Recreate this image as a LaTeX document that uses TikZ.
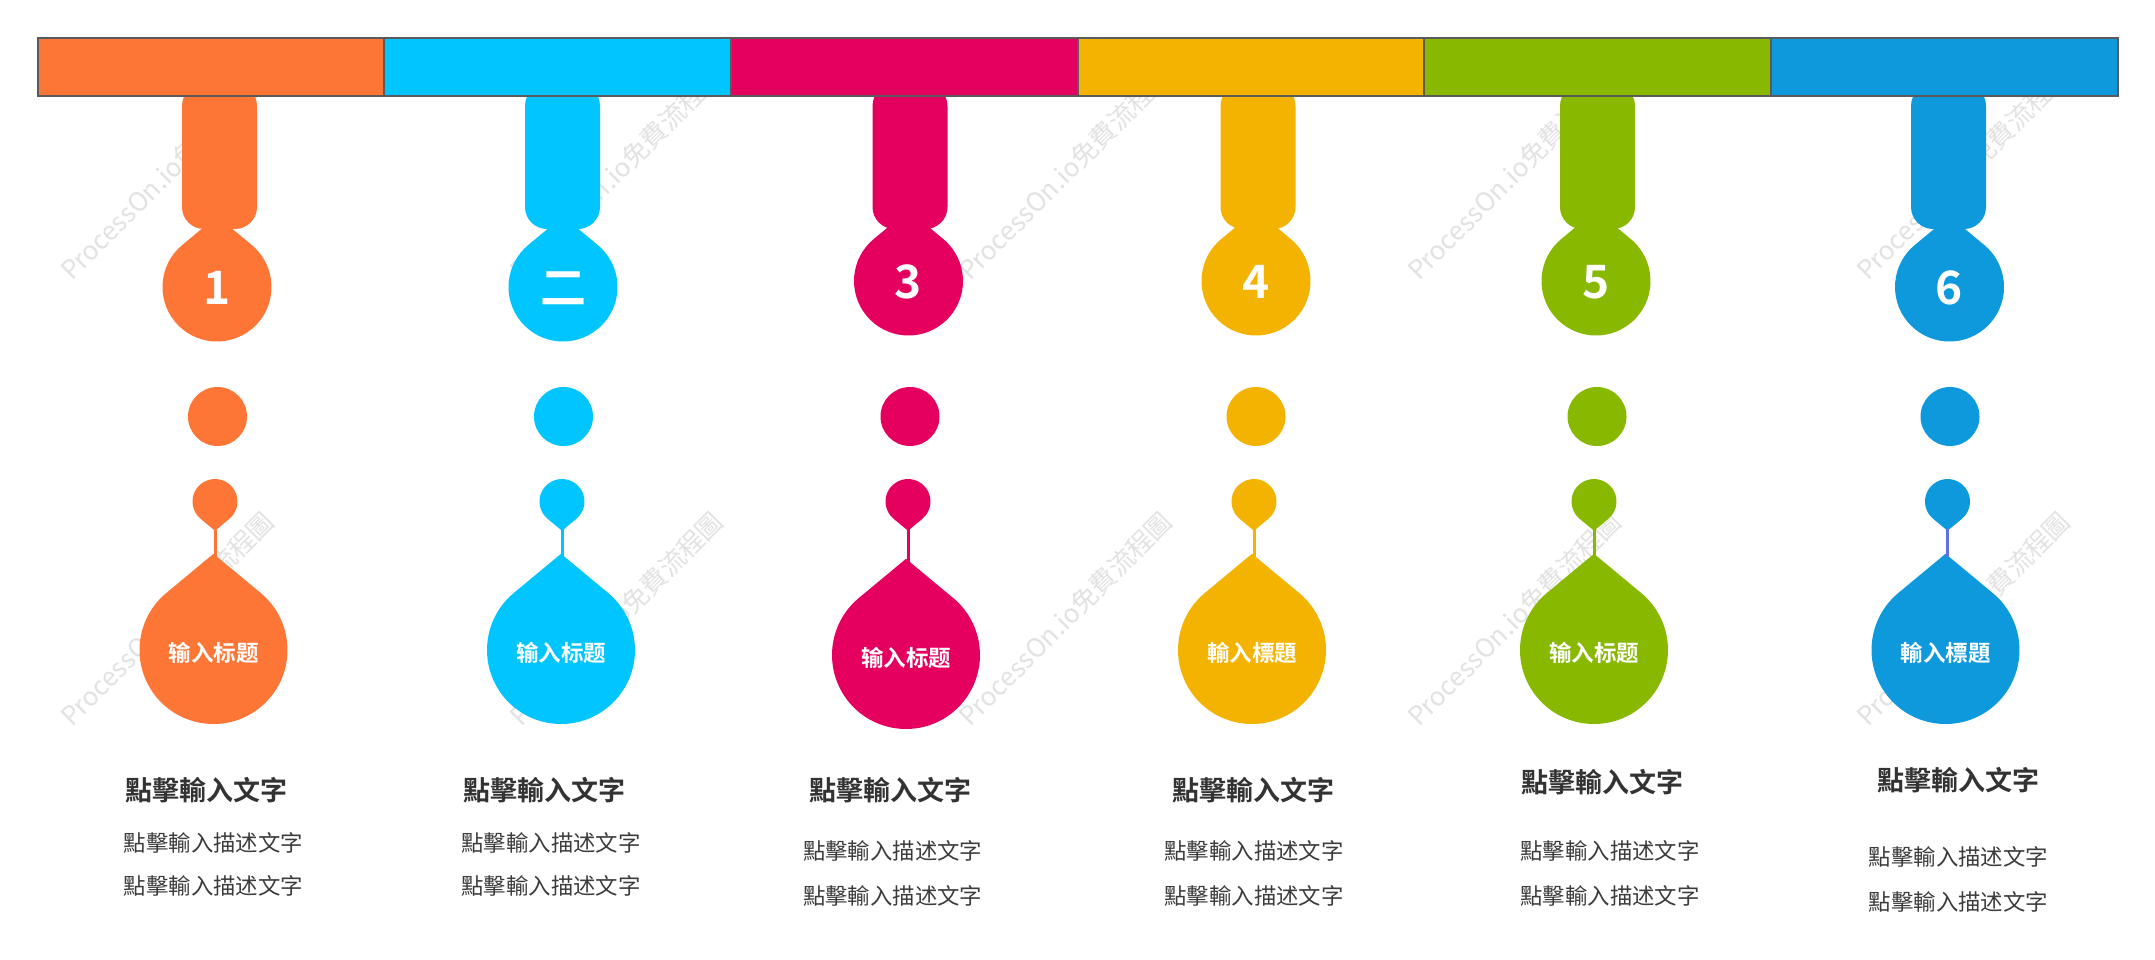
\documentclass[tikz,border=0pt]{standalone}
\usepackage{fontspec}
\newfontfamily\cjk{Noto Sans CJK SC}[BoldFont={Noto Sans CJK SC Bold}]
\definecolor{cOrange}{HTML}{FD7636}
\definecolor{cCyan}{HTML}{00C5FF}
\definecolor{cMagenta}{HTML}{E5005F}
\definecolor{cYellow}{HTML}{F3B300}
\definecolor{cGreen}{HTML}{88B800}
\definecolor{cBlue}{HTML}{0E99DC}
\definecolor{cViolet}{HTML}{6070E4}
\definecolor{txtTitle}{HTML}{333333}
\definecolor{txtDesc}{HTML}{3C3C3C}
\definecolor{wmGray}{HTML}{E2E2E2}
\definecolor{barLine}{HTML}{5A5A5A}
\tikzset{
  barseg/.style={fill=#1, draw=barLine, line width=1.3pt},
  numlabel/.style={text=white, font=\cjk\bfseries\fontsize{46pt}{50pt}\selectfont, inner sep=0pt},
  droplabel/.style={text=white, font=\cjk\bfseries\fontsize{22.5pt}{24pt}\selectfont, inner sep=0pt},
  titletext/.style={text=txtTitle, font=\cjk\bfseries\fontsize{27pt}{30pt}\selectfont, inner sep=0pt},
  desctext/.style={text=txtDesc, font=\cjk\fontsize{22.4pt}{26pt}\selectfont, inner sep=0pt},
  wmtext/.style={text=wmGray, font=\cjk\fontsize{26pt}{30pt}\selectfont, inner sep=0pt, anchor=base west, rotate=45},
  thinline/.style={draw=#1, line width=3pt}
}
% teardrop, tip up: cx, cy, r, colour
\newcommand\dropUp[4]{%
  \fill[#4] ({#1},{#2-1.3*#3}) -- ({#1+#3*cos(-129.72)},{#2+#3*sin(-129.72)})
    arc[start angle=-129.72, end angle=-410.28, radius=#3] -- cycle;}
% teardrop, tip down: cx, cy, r, colour
\newcommand\dropDown[4]{%
  \fill[#4] ({#1},{#2+1.3*#3}) -- ({#1+#3*cos(50.28)},{#2+#3*sin(50.28)})
    arc[start angle=50.28, end angle=-230.28, radius=#3] -- cycle;}
\begin{document}
\begin{tikzpicture}[x=1pt, y=-1pt]
\useasboundingbox (0,0) rectangle (2155,960);
\fill[white] (0,0) rectangle (2155,960);

% watermark
\foreach \wx in {72,521,970,1419,1868} {
  \foreach \wy in {282,728} {
    \node[wmtext] (wm-\wx-\wy) at (\wx,\wy) {ProcessOn.io免費流程圖};
  }
}

% columns
\foreach \c/\sx/\nx/\ny/\num/\dx/\sdx/\bx/\by/\lab/\tx/\ty/\ex/\eya/\eyb/\lc [count=\i] in {
  cOrange/219.5/217/287/1/217.5/215/213.5/650/输入标题/206.5/790/213.5/842.5/886/cOrange,
  cCyan/562.5/563/287/二/563.5/562/561/650/输入标题/544/790/551/842.5/886/cCyan,
  cMagenta/910/908.5/281/3/910/908/906/655/输入标题/890.6/790/892.7/851/896/cMagenta,
  cYellow/1258/1256/281/4/1256/1254/1252/650/輸入標題/1253.5/790/1254/851/896/cYellow,
  cGreen/1597.5/1596/281/5/1597/1594/1594/650/输入标题/1602.5/782/1610/851/896/cGreen,
  cBlue/1948.5/1949.5/287/6/1950/1947.5/1945.5/650/輸入標題/1958.5/780/1958.5/857/902/cViolet} {
  % stem
  \fill[\c, rounded corners=22pt] ({\sx-37.5},84) rectangle ({\sx+37.5},229);
  % number drop
  \dropUp{\nx}{\ny}{54.5}{\c}
  \node[numlabel] (num\i) at (\nx,{\ny+1}) {\num};
  % dot
  \fill[\c] (\dx,416.5) circle[radius=29.5];
  % small drop and big drop
  \dropDown{\sdx}{501.5}{22.5}{\c}
  \dropUp{\bx}{\by}{74}{\c}
  \coordinate (st\i) at (\sdx,{501.5+1.3*22.5-2});
  \coordinate (bt\i) at (\sdx,{\by-1.3*74+3});
  \draw[thinline=\lc] (st\i) -- (bt\i);
  \node[droplabel] (lab\i) at (\bx,{\by+3}) {\lab};
  % texts
  \node[titletext] (title\i) at (\tx,\ty) {點擊輸入文字};
  \node[desctext] (descA\i) at (\ex,\eya) {點擊輸入描述文字};
  \node[desctext] (descB\i) at (\ex,\eyb) {點擊輸入描述文字};
}

% top bar
\foreach \xa/\xb/\c [count=\j] in {38/384/cOrange, 384/731/cCyan, 731/1078/cMagenta,
  1078/1424/cYellow, 1424/1771/cGreen, 1771/2118/cBlue} {
  \draw[barseg=\c] (\xa,38) rectangle (\xb,96);
}
\end{tikzpicture}
\end{document}
